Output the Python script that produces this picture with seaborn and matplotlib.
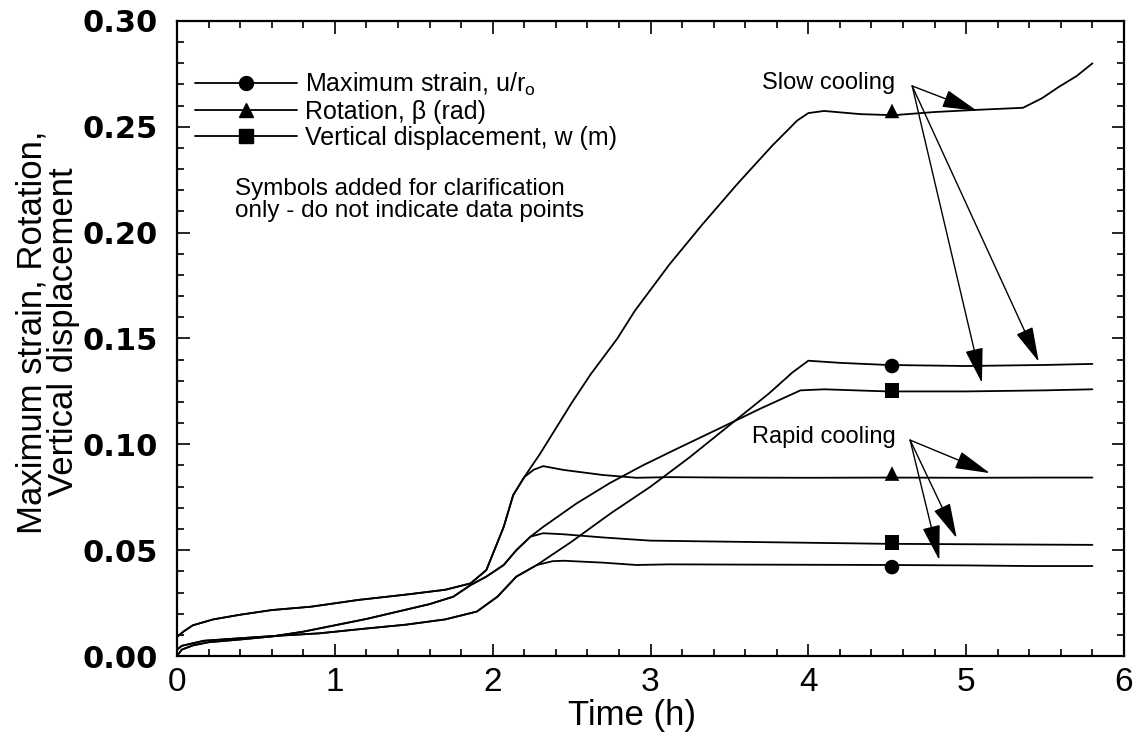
import numpy as np
import pandas as pd
import seaborn as sns
import matplotlib.pyplot as plt
from matplotlib.lines import Line2D
from matplotlib.ticker import MultipleLocator, FormatStrFormatter

# early parts (before cooling starts), shared by slow and rapid runs
rot_early_t = [0.0, 0.04, 0.1, 0.23, 0.4, 0.6, 0.85, 1.15, 1.45, 1.7, 1.86, 1.96, 2.07, 2.13, 2.2]
rot_early_v = [0.009, 0.0115, 0.0145, 0.0173, 0.0195, 0.0217, 0.0233, 0.0265, 0.029, 0.0313, 0.0343, 0.0406, 0.061, 0.076, 0.0845]

disp_early_t = [0.0, 0.03, 0.1, 0.2, 0.4, 0.6, 0.8, 1.0, 1.2, 1.4, 1.6, 1.75, 1.86, 1.96, 2.07, 2.15, 2.24]
disp_early_v = [0.0, 0.003, 0.005, 0.0065, 0.0078, 0.0092, 0.0115, 0.0145, 0.0175, 0.021, 0.0245, 0.028, 0.0335, 0.0375, 0.043, 0.050, 0.0564]

strain_early_t = [0.0, 0.03, 0.17, 0.38, 0.6, 0.9, 1.2, 1.45, 1.7, 1.9, 2.03, 2.15, 2.28]
strain_early_v = [0.003, 0.0048, 0.0072, 0.0083, 0.0094, 0.0107, 0.013, 0.0148, 0.0173, 0.021, 0.028, 0.0375, 0.043]

# slow cooling tails
rot_slow_t = [2.3, 2.4, 2.5, 2.62, 2.79, 2.9, 3.12, 3.33, 3.55, 3.77, 3.93, 4.0, 4.1, 4.33, 4.54, 4.8, 5.06, 5.36, 5.48, 5.59, 5.7, 5.8]
rot_slow_v = [0.0955, 0.1075, 0.1195, 0.133, 0.150, 0.163, 0.185, 0.204, 0.223, 0.241, 0.253, 0.2565, 0.2575, 0.256, 0.2555, 0.257, 0.258, 0.259, 0.2635, 0.269, 0.274, 0.280]
strain_slow_t = [2.5, 2.75, 3.0, 3.25, 3.5, 3.75, 3.9, 4.0, 4.2, 4.5, 5.0, 5.5, 5.8]
strain_slow_v = [0.054, 0.0675, 0.080, 0.094, 0.109, 0.124, 0.134, 0.1395, 0.1385, 0.1375, 0.137, 0.1375, 0.138]
disp_slow_t = [2.32, 2.53, 2.74, 2.95, 3.17, 3.45, 3.7, 3.95, 4.1, 4.5, 5.0, 5.5, 5.8]
disp_slow_v = [0.061, 0.072, 0.0816, 0.090, 0.098, 0.108, 0.117, 0.1255, 0.126, 0.125, 0.125, 0.1255, 0.126]

# rapid cooling tails
rot_rapid_t = [2.26, 2.32, 2.45, 2.7, 2.91, 3.12, 3.5, 4.0, 4.5, 5.0, 5.5, 5.8]
rot_rapid_v = [0.088, 0.0897, 0.0879, 0.0855, 0.0842, 0.0845, 0.0843, 0.0842, 0.0843, 0.0842, 0.0843, 0.0843]
strain_rapid_t = [2.38, 2.45, 2.7, 2.91, 3.12, 3.5, 4.0, 4.5, 5.0, 5.4, 5.8]
strain_rapid_v = [0.0448, 0.045, 0.0441, 0.043, 0.0433, 0.0432, 0.0431, 0.043, 0.0428, 0.0425, 0.0425]
disp_rapid_t = [2.32, 2.45, 2.7, 3.0, 3.5, 4.0, 4.5, 5.0, 5.8]
disp_rapid_v = [0.058, 0.0575, 0.056, 0.0545, 0.054, 0.0535, 0.053, 0.0528, 0.0525]

# symbols drawn at one time only
sym_t = 4.53
sym_kind = ['rotation', 'strain', 'disp', 'rotation', 'disp', 'strain']
sym_v = [0.2575, 0.137, 0.1255, 0.0862, 0.0535, 0.042]

legend_labels = ['Maximum strain, u/r$\\mathregular{_o}$', 'Rotation, \u03b2 (rad)', 'Vertical displacement, w (m)']

curves = {
    'rot_slow': (rot_early_t + rot_slow_t, rot_early_v + rot_slow_v),
    'rot_rapid': (rot_early_t + rot_rapid_t, rot_early_v + rot_rapid_v),
    'strain_slow': (strain_early_t + strain_slow_t, strain_early_v + strain_slow_v),
    'strain_rapid': (strain_early_t + strain_rapid_t, strain_early_v + strain_rapid_v),
    'disp_slow': (disp_early_t + disp_slow_t, disp_early_v + disp_slow_v),
    'disp_rapid': (disp_early_t + disp_rapid_t, disp_early_v + disp_rapid_v),
}
rows = []
for name, (tt, vv) in curves.items():
    for t, v in zip(tt, vv):
        rows.append({'curve': name, 'time': t, 'value': v})
df = pd.DataFrame(rows)
sym_df = pd.DataFrame({'time': [sym_t] * len(sym_v), 'value': sym_v, 'kind': sym_kind})

sns.set_theme(style='ticks')
plt.rcParams['font.family'] = ['Liberation Sans', 'DejaVu Sans']
plt.rcParams.update({'text.color': 'black', 'axes.labelcolor': 'black',
                     'xtick.color': 'black', 'ytick.color': 'black'})

fig = plt.figure(figsize=(11.42, 7.35), dpi=100)
ax = fig.add_axes([177 / 1142, 79 / 735, 947 / 1142, 635 / 735])

sns.lineplot(data=df, x='time', y='value', units='curve', estimator=None, sort=False,
             color='black', lw=1.3, ax=ax)
markers = {'strain': 'o', 'rotation': '^', 'disp': 's'}
sns.scatterplot(data=sym_df, x='time', y='value', style='kind', markers=markers,
                color='black', s=110, edgecolor='black', linewidth=0, legend=False, ax=ax, zorder=5)

ax.set_xlim(0, 6)
ax.set_ylim(0, 0.30)
ax.xaxis.set_major_locator(MultipleLocator(1))
ax.xaxis.set_minor_locator(MultipleLocator(0.2))
ax.yaxis.set_major_locator(MultipleLocator(0.05))
ax.yaxis.set_minor_locator(MultipleLocator(0.01))
ax.yaxis.set_major_formatter(FormatStrFormatter('%.2f'))
ax.tick_params(which='both', direction='in', top=True, right=True, color='black',
               labelcolor='black', width=1.2)
ax.tick_params(which='major', length=9)
ax.tick_params(which='minor', length=5)
ax.tick_params(axis='y', pad=14)
ax.tick_params(axis='x', pad=8)
for lab in ax.get_yticklabels():
    lab.set_fontfamily('DejaVu Sans')
    lab.set_fontweight('bold')
    lab.set_fontsize(22)
for lab in ax.get_xticklabels():
    lab.set_fontsize(24)
for sp in ax.spines.values():
    sp.set_color('black')
    sp.set_linewidth(1.6)

ax.set_xlabel('Time (h)', fontsize=25, labelpad=0, color='black')
ax.xaxis.set_label_coords((632 - 177) / 947, -(699 - 656) / 635)
ax.set_ylabel('Maximum strain, Rotation,\nVertical displacement', fontsize=25,
              linespacing=0.95, color='black')
ax.yaxis.set_label_coords(-(177 - 80) / 947, (656 - 332) / 635)

handles = [Line2D([], [], color='black', lw=1.3, marker=m, markersize=10)
           for m in ['o', '^', 's']]
leg = ax.legend(handles, legend_labels, loc='upper left', bbox_to_anchor=(0.019, 0.922),
                frameon=False, fontsize=18, handlelength=4.1, handletextpad=0.3,
                labelspacing=0.08, borderpad=0, borderaxespad=0, numpoints=1)
for t in leg.get_texts():
    t.set_color('black')

ax.text(0.368, 0.2154, 'Symbols added for clarification\nonly - do not indicate data points',
        fontsize=17.5, ha='left', va='center', linespacing=1.0, color='black')

ax.text(3.707, 0.2707, 'Slow cooling', fontsize=17, ha='left', va='center', color='black')
ax.text(3.644, 0.1034, 'Rapid cooling', fontsize=17, ha='left', va='center', color='black')

arrow = dict(arrowstyle='-|>,head_length=1.1,head_width=0.28', color='black', lw=1.0,
             mutation_scale=20, shrinkA=0, shrinkB=0)
slow_origin = (4.658, 0.2693)
for tip in [(5.07, 0.2575), (5.10, 0.129), (5.46, 0.139)]:
    ax.annotate('', xy=tip, xytext=slow_origin, arrowprops=arrow)
rapid_origin = (4.645, 0.102)
for tip in [(5.15, 0.0864), (4.94, 0.0557), (4.83, 0.0453)]:
    ax.annotate('', xy=tip, xytext=rapid_origin, arrowprops=arrow)

fig.savefig('out.png', dpi=100)
